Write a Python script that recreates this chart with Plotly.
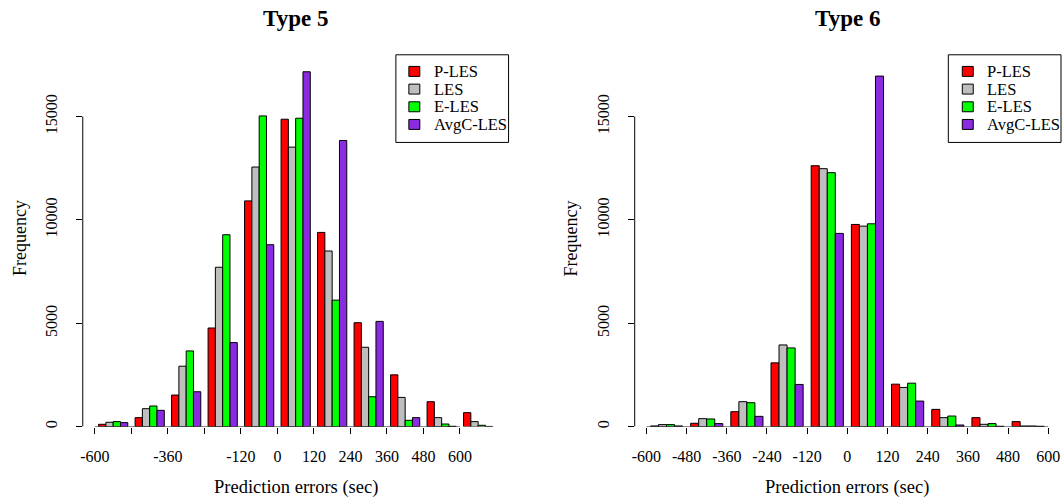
import plotly.graph_objects as go

# Histogram bin centres (prediction error, seconds) and axis ticks
bins_type5 = [-540, -420, -300, -180, -60, 60, 180, 300, 420, 540, 660]
bins_type6 = [-540, -420, -300, -180, -60, 60, 180, 300, 420, 540]
x_ticks = [-600, -480, -360, -240, -120, 0, 120, 240, 360, 480, 600]
x_labels_type5 = ["-600", "", "-360", "", "-120", "0", "120", "240", "360", "480", "600"]
x_labels_type6 = ["-600", "-480", "-360", "-240", "-120", "0", "120", "240", "360", "480", "600"]
y_ticks = [0, 5000, 10000, 15000]
y_labels = ["0", "5000", "10000", "15000"]

series_names = ["P-LES", "LES", "E-LES", "AvgC-LES"]
series_colors = ["#FF0000", "#BEBEBE", "#00FF00", "#8A2BE2"]

# Frequencies, Type 5
type5_p_les = [112, 434, 1526, 4770, 10921, 14872, 9395, 5027, 2505, 1205, 675]
type5_les = [209, 867, 2923, 7709, 12559, 13522, 8496, 3838, 1413, 434, 241]
type5_e_les = [241, 996, 3662, 9283, 15032, 14920, 6119, 1445, 305, 125, 64]
type5_avgc_les = [193, 787, 1686, 4063, 8801, 17168, 13844, 5091, 434, 15, 8]

# Frequencies, Type 6
type6_p_les = [32, 160, 723, 3084, 12623, 9781, 2053, 834, 434, 241]
type6_les = [96, 385, 1205, 3951, 12479, 9700, 1894, 434, 111, 30]
type6_e_les = [96, 369, 1157, 3806, 12286, 9813, 2101, 511, 144, 30]
type6_avgc_les = [32, 144, 496, 2040, 9347, 16959, 1234, 77, 16, 16]

W, H = 1063, 504
FONT = "Liberation Serif"


def px(x):
    return x / W


def py(y):
    return 1 - y / H


fig = go.Figure()

panels = [
    ("x", "y", bins_type5, [type5_p_les, type5_les, type5_e_les, type5_avgc_les]),
    ("x2", "y2", bins_type6, [type6_p_les, type6_les, type6_e_les, type6_avgc_les]),
]
for xa, ya, bins, values in panels:
    for name, color, vals in zip(series_names, series_colors, values):
        fig.add_trace(go.Bar(
            x=bins, y=vals, name=name, xaxis=xa, yaxis=ya,
            marker=dict(color=color, line=dict(color="black", width=1)),
            showlegend=False,
        ))

y_top = 18231
axis_common = dict(showgrid=False, zeroline=False, showline=False,
                   ticks="outside", ticklen=6, tickwidth=1, tickcolor="black",
                   tickfont=dict(family=FONT, size=16, color="black"))

fig.update_layout(
    width=W, height=H,
    margin=dict(l=0, r=0, t=0, b=0),
    paper_bgcolor="white", plot_bgcolor="white",
    barmode="group", bargap=0.2, bargroupgap=0,
    xaxis=dict(domain=[px(80), px(507)], range=[-640, 760], anchor="y",
               tickmode="array", tickvals=x_ticks, ticktext=x_labels_type5,
               ticklabelstandoff=9, **axis_common),
    xaxis2=dict(domain=[px(633.5), px(1060)], range=[-635, 635], anchor="y2",
                tickmode="array", tickvals=x_ticks, ticktext=x_labels_type6,
                ticklabelstandoff=9, **axis_common),
    yaxis=dict(domain=[py(428.3), py(50)], range=[0, y_top], anchor="x",
               tickmode="array", tickvals=y_ticks, ticktext=y_labels,
               tickangle=-90, ticklabelstandoff=12, **axis_common),
    yaxis2=dict(domain=[py(428.3), py(50)], range=[0, y_top], anchor="x2",
                tickmode="array", tickvals=y_ticks, ticktext=y_labels,
                tickangle=-90, ticklabelstandoff=12, **axis_common),
)

shapes = []
annotations = []

# Axis lines spanning the first to last tick, as in base R graphics
for xa, ya in [("x", "y"), ("x2", "y2")]:
    shapes.append(dict(type="line", xref=xa, yref=ya, x0=x_ticks[0], x1=x_ticks[-1],
                       y0=y_ticks[0], y1=y_ticks[0], line=dict(color="black", width=1)))
    shapes.append(dict(type="line", xref=xa + " domain", yref=ya, x0=0, x1=0,
                       y0=y_ticks[0], y1=y_ticks[-1], line=dict(color="black", width=1)))

# Titles and axis labels
for title, cx, fx in [("Type 5", (80 + 507) / 2, 17), ("Type 6", (633.5 + 1060) / 2, 570)]:
    annotations.append(dict(text="<b>%s</b>" % title, x=px(cx), y=py(19), xref="paper", yref="paper",
                            xanchor="center", yanchor="middle", showarrow=False,
                            font=dict(family=FONT, size=23, color="black")))
    annotations.append(dict(text="Prediction errors (sec)", x=px(cx), y=py(489), xref="paper",
                            yref="paper", xanchor="center", yanchor="middle", showarrow=False,
                            font=dict(family=FONT, size=18.5, color="black")))
    annotations.append(dict(text="Frequency", x=px(fx), y=py(239), xref="paper", yref="paper",
                            xanchor="center", yanchor="middle", showarrow=False, textangle=-90,
                            font=dict(family=FONT, size=18, color="black")))

# Boxed legends in the top-right corner of each panel
for box_l, box_r, sw_l, txt_l in [(394, 507, 407, 431), (948, 1061, 962, 986)]:
    shapes.append(dict(type="rect", xref="paper", yref="paper", x0=px(box_l), x1=px(box_r),
                       y0=py(143), y1=py(55), line=dict(color="black", width=1),
                       fillcolor="white", layer="above"))
    for i, (name, color) in enumerate(zip(series_names, series_colors)):
        cy = 71.7 + i * 17.75
        shapes.append(dict(type="rect", xref="paper", yref="paper", x0=px(sw_l), x1=px(sw_l + 11),
                           y0=py(cy + 5), y1=py(cy - 5), line=dict(color="black", width=1),
                           fillcolor=color, layer="above"))
        annotations.append(dict(text=name, x=px(txt_l), y=py(cy), xref="paper", yref="paper",
                                xanchor="left", yanchor="middle", align="left", showarrow=False,
                                borderpad=0,
                                font=dict(family=FONT, size=16.5, color="black")))

fig.update_layout(shapes=shapes, annotations=annotations)
fig.write_html("out.html")
